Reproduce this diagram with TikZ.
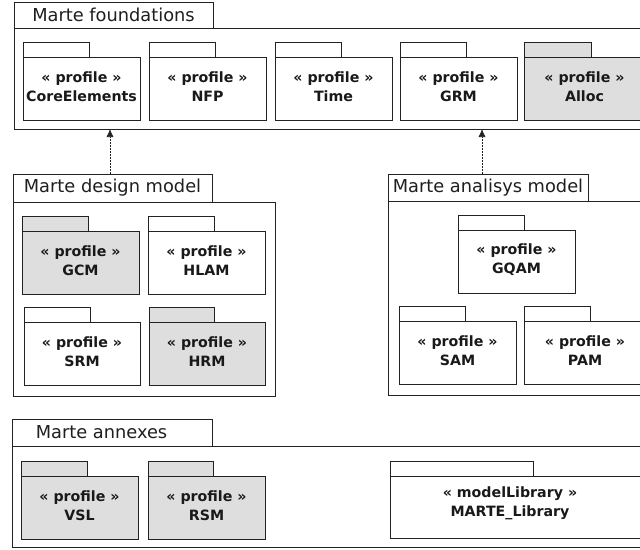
\documentclass[tikz,border=0pt]{standalone}
\usepackage{fontspec}
\setmainfont{DejaVu Sans}
\usetikzlibrary{arrows.meta}
\definecolor{pkggray}{HTML}{DEDEDE}
\definecolor{linecol}{HTML}{222222}
\tikzset{
  frame/.style={draw=linecol, line width=1pt, fill=white, inner sep=0pt, outer sep=0pt, anchor=north west},
  pkgline/.style={draw=linecol, line width=1pt},
  title/.style={font=\fontsize{17.8}{20}\selectfont, text=black!88},
  pkgtext/.style={font=\bfseries\fontsize{14.2}{18.5}\selectfont, align=center, text=black!90, inner sep=0pt},
  dep/.style={draw=linecol, line width=0.6pt, dash pattern=on 2pt off 1pt, -{Latex[length=8pt,width=7pt]}},
}
% name, x, y(top of body), body width, fill, tab width, text
\newcommand\mypkg[7]{%
  \draw[pkgline, fill=#5] (#2,#3) rectangle ++(#6,-15);
  \node[frame, fill=#5, minimum width=#4pt, minimum height=63pt] (#1) at (#2,#3) {};
  \node[pkgtext] (#1t) at ([yshift=-29.5pt]#1.north) {#7};
}
\begin{document}
\begin{tikzpicture}[x=1pt, y=-1pt]
\useasboundingbox (0,0) rectangle (640,549);
\clip (0,0) rectangle (640,549);

% ---------- Marte foundations ----------
\node[frame, minimum width=199pt, minimum height=26pt] (Ftab) at (14,2) {};
\node[title] (Ftitle) at (Ftab.center) {Marte foundations};
\node[frame, minimum width=660pt, minimum height=101pt] (F) at (14,28) {};
\mypkg{core}{23}{57}{117}{white}{66}{« profile »\\CoreElements}
\mypkg{nfp}{149}{57}{117}{white}{66}{« profile »\\NFP}
\mypkg{time}{275}{57}{117}{white}{66}{« profile »\\Time}
\mypkg{grm}{400}{57}{117}{white}{66}{« profile »\\GRM}
\mypkg{alloc}{524}{57}{121}{pkggray}{67}{« profile »\\Alloc}

% ---------- Marte design model ----------
\node[frame, minimum width=199pt, minimum height=28pt] (Dtab) at (13,174) {};
\node[title] (Dtitle) at (Dtab.center) {Marte design model};
\node[frame, minimum width=262pt, minimum height=194pt] (D) at (13,202) {};
\mypkg{gcm}{22}{231}{117}{pkggray}{66}{« profile »\\GCM}
\mypkg{hlam}{148}{231}{117}{white}{66}{« profile »\\HLAM}
\mypkg{srm}{24}{322}{116}{white}{66}{« profile »\\SRM}
\mypkg{hrm}{149}{322}{116}{pkggray}{65}{« profile »\\HRM}

% ---------- Marte analisys model ----------
\node[frame, minimum width=200pt, minimum height=27pt] (Atab) at (388,174) {};
\node[title] (Atitle) at (Atab.center) {Marte analisys model};
\node[frame, minimum width=400pt, minimum height=194pt] (A) at (388,201) {};
\mypkg{gqam}{458}{230}{117}{white}{66}{« profile »\\GQAM}
\mypkg{sam}{399}{321}{117}{white}{66}{« profile »\\SAM}
\mypkg{pam}{524}{321}{122}{white}{66}{« profile »\\PAM}

% ---------- Marte annexes ----------
\node[frame, minimum width=200pt, minimum height=27pt] (Xtab) at (12,419) {};
\node[title] (Xtitle) at (101.5,432.5) {Marte annexes};
\node[frame, minimum width=660pt, minimum height=101pt] (X) at (12,446) {};
\mypkg{vsl}{21}{476}{117}{pkggray}{66}{« profile »\\VSL}
\mypkg{rsm}{148}{476}{117}{pkggray}{65}{« profile »\\RSM}
\draw[pkgline] (390,476) rectangle ++(143,-15);
\node[frame, minimum width=400pt, minimum height=62pt] (lib) at (390,476) {};
\node[pkgtext] (libt) at (510,503.5) {« modelLibrary »\\MARTE\_Library};

% ---------- dependencies ----------
\draw[dep] ([xshift=97pt]Dtab.north west) -- ([xshift=97pt]Dtab.north west |- F.south);
\draw[dep] ([xshift=94pt]Atab.north west) -- ([xshift=94pt]Atab.north west |- F.south);
\end{tikzpicture}
\end{document}
